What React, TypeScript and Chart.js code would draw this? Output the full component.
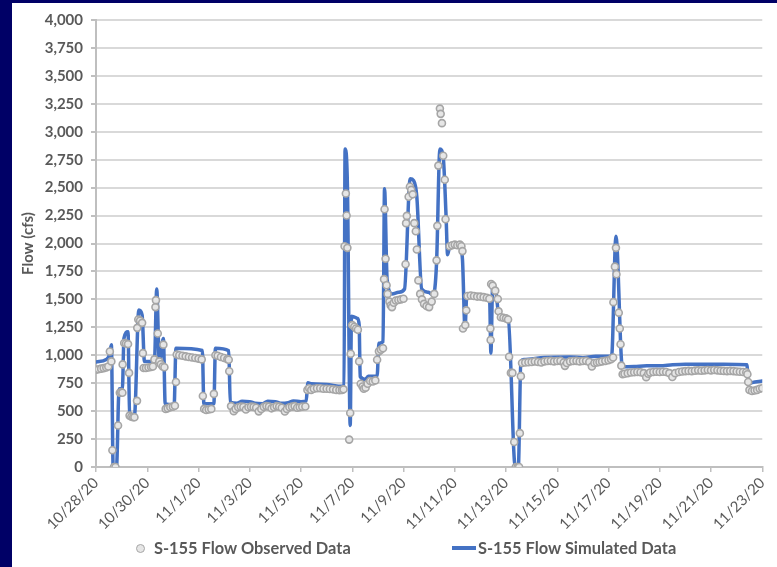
import React, { useEffect, useRef } from 'react';
import { Chart, registerables } from 'chart.js';

Chart.register(...registerables);

// x values are days elapsed since 10/28/20
const xTickLabels = [
  '10/28/20', '10/30/20', '11/1/20', '11/3/20', '11/5/20', '11/7/20', '11/9/20',
  '11/11/20', '11/13/20', '11/15/20', '11/17/20', '11/19/20', '11/21/20', '11/23/20',
];
const xTickStepDays = 2;
const yMax = 4000;
const yStep = 250;

const observedLabel = 'S-155 Flow Observed Data';
const simulatedLabel = 'S-155 Flow Simulated Data';

// Simulated series: [day, flow cfs]
const simulated: [number, number][] = [
  [0, 940], [0.4, 962], [0.52, 1000], [0.6, 1095], [0.67, 0], [0.8, 0], [0.9, 698], [1.03, 702],
  [1.09, 1151], [1.25, 1210], [1.31, 477], [1.5, 460], [1.67, 1404], [1.8, 1360], [1.89, 945],
  [2.28, 945], [2.37, 1593], [2.47, 945], [2.63, 1151], [2.7, 565], [3.05, 560], [3.12, 1063],
  [4.15, 1042], [4.21, 565], [4.6, 565], [4.66, 1063], [5.18, 1040], [5.24, 580], [5.5, 570],
  [5.7, 588], [6.0, 585], [6.2, 570], [6.5, 566], [6.7, 588], [7.0, 585], [7.2, 570], [7.5, 575],
  [7.7, 590], [8.0, 585], [8.2, 590], [8.27, 754], [8.4, 745], [9.0, 738], [9.6, 722], [9.68, 725],
  [9.72, 2845], [9.81, 2535], [9.92, 371], [9.97, 1350], [10.2, 1330], [10.27, 1270], [10.31, 810],
  [10.52, 783], [10.62, 813], [10.97, 813], [11.04, 1107], [11.2, 1122], [11.26, 2491], [11.36, 1681],
  [11.55, 1549], [11.81, 1564], [12.04, 1593], [12.26, 2580], [12.39, 2565], [12.52, 2418],
  [12.71, 1593], [12.97, 1564], [13.16, 1537], [13.29, 1829], [13.42, 2845], [13.55, 2771],
  [13.66, 2250], [13.72, 1900], [13.82, 1990], [14.2, 1965], [14.3, 1860], [14.4, 1240],
  [14.47, 1534], [15.36, 1504], [15.41, 1019], [15.48, 1623], [15.61, 1564], [15.72, 1358],
  [16.09, 1316], [16.36, 0], [16.48, 0], [16.58, 945], [16.7, 962], [17.5, 980], [18.5, 985],
  [19.0, 978], [19.5, 990], [20.12, 992], [20.29, 2065], [20.54, 898], [21.0, 900], [21.5, 905],
  [22.0, 905], [22.5, 915], [23.0, 920], [24.0, 920], [25.0, 918], [25.4, 916], [25.46, 742],
  [25.6, 755], [26.0, 770],
];

// Observed series: [day, flow cfs]
const observed: [number, number][] = [
  [0, 870], [0.1, 875], [0.2, 880], [0.3, 885], [0.4, 890], [0.48, 900], [0.54, 1034], [0.6, 945],
  [0.64, 150], [0.7, 0], [0.76, 0], [0.86, 371], [0.93, 665], [0.98, 670], [1.03, 665], [1.04, 918],
  [1.1, 1110], [1.17, 1105], [1.25, 1100], [1.29, 842], [1.31, 460], [1.38, 450], [1.45, 445],
  [1.5, 445], [1.6, 592], [1.61, 1245], [1.65, 1320], [1.72, 1310], [1.8, 1290], [1.83, 1019],
  [1.86, 886], [1.95, 886], [2.05, 890], [2.15, 895], [2.22, 900], [2.28, 963], [2.32, 1431],
  [2.34, 1493], [2.41, 1195], [2.47, 945], [2.53, 920], [2.6, 900], [2.63, 1095], [2.67, 892],
  [2.72, 520], [2.8, 525], [2.9, 535], [3.0, 540], [3.08, 548], [3.12, 760], [3.15, 1007],
  [3.25, 1000], [3.375, 995], [3.5, 990], [3.625, 985], [3.75, 980], [3.875, 975], [4.0, 970],
  [4.125, 963], [4.17, 636], [4.22, 520], [4.3, 510], [4.4, 515], [4.5, 520], [4.6, 654],
  [4.66, 1000], [4.75, 995], [4.875, 985], [5.0, 975], [5.125, 965], [5.18, 960], [5.2, 857],
  [5.27, 545], [5.375, 500], [5.45, 520], [5.55, 535], [5.65, 540], [5.75, 538], [5.85, 515],
  [5.95, 535], [6.05, 540], [6.15, 538], [6.25, 530], [6.35, 498], [6.45, 520], [6.55, 538],
  [6.65, 545], [6.75, 540], [6.85, 525], [6.95, 535], [7.05, 545], [7.15, 540], [7.25, 530],
  [7.37, 497], [7.45, 520], [7.55, 535], [7.65, 540], [7.75, 545], [7.85, 530], [7.95, 535],
  [8.05, 540], [8.17, 542], [8.25, 690], [8.32, 705], [8.4, 690], [8.5, 700], [8.625, 705],
  [8.75, 705], [8.875, 700], [9.0, 700], [9.125, 698], [9.25, 695], [9.375, 690], [9.5, 688],
  [9.6, 690], [9.66, 695], [9.7, 1976], [9.75, 2447], [9.78, 2250], [9.81, 1961], [9.88, 245],
  [9.92, 483], [9.94, 1013], [10.0, 1270], [10.08, 1255], [10.15, 1240], [10.22, 1228], [10.27, 945],
  [10.33, 745], [10.4, 720], [10.45, 700], [10.52, 710], [10.6, 745], [10.7, 769], [10.8, 765],
  [10.9, 775], [10.97, 960], [11.04, 1035], [11.12, 1050], [11.2, 1063], [11.24, 1681],
  [11.26, 2306], [11.3, 1864], [11.34, 1627], [11.38, 1549], [11.45, 1480], [11.5, 1445],
  [11.55, 1431], [11.62, 1470], [11.7, 1490], [11.8, 1495], [11.9, 1500], [12.0, 1505],
  [12.08, 1814], [12.1, 2182], [12.13, 2247], [12.2, 2418], [12.25, 2508], [12.3, 2480],
  [12.36, 2440], [12.42, 2182], [12.48, 2109], [12.52, 1946], [12.58, 1670], [12.65, 1549],
  [12.72, 1500], [12.8, 1460], [12.9, 1440], [13.0, 1431], [13.1, 1480], [13.2, 1549],
  [13.29, 1849], [13.32, 2158], [13.36, 2697], [13.42, 3207], [13.45, 3160], [13.5, 3077],
  [13.55, 2785], [13.61, 2570], [13.64, 2217], [13.8, 1975], [13.9, 1985], [14.0, 1990],
  [14.1, 1985], [14.2, 1990], [14.26, 1975], [14.3, 1932], [14.32, 1240], [14.41, 1270],
  [14.45, 1402], [14.5, 1530], [14.625, 1535], [14.75, 1530], [14.875, 1525], [15.0, 1525],
  [15.125, 1520], [15.25, 1515], [15.35, 1505], [15.39, 1240], [15.4, 1137], [15.42, 1637],
  [15.48, 1623], [15.58, 1578], [15.68, 1504], [15.71, 1393], [15.8, 1340], [15.9, 1335],
  [16.0, 1330], [16.08, 1320], [16.12, 987], [16.19, 842], [16.25, 842], [16.32, 224], [16.38, 0],
  [16.45, 0], [16.51, 0], [16.54, 303], [16.58, 813], [16.625, 930], [16.75, 935], [16.875, 938],
  [17.0, 940], [17.125, 945], [17.25, 940], [17.375, 935], [17.5, 945], [17.625, 948], [17.75, 950],
  [17.875, 945], [18.0, 948], [18.125, 950], [18.25, 935], [18.3, 905], [18.375, 930], [18.5, 945],
  [18.625, 948], [18.75, 950], [18.875, 945], [19.0, 948], [19.125, 950], [19.25, 940], [19.35, 900],
  [19.45, 930], [19.55, 935], [19.65, 940], [19.75, 945], [19.875, 950], [20.0, 955], [20.1, 965],
  [20.18, 980], [20.19, 1475], [20.25, 1793], [20.29, 1961], [20.31, 1725], [20.4, 1381],
  [20.44, 1240], [20.47, 1098], [20.5, 907], [20.55, 830], [20.625, 835], [20.75, 840],
  [20.875, 845], [21.0, 848], [21.125, 850], [21.25, 848], [21.375, 840], [21.47, 804], [21.55, 835],
  [21.625, 845], [21.75, 850], [21.875, 852], [22.0, 850], [22.125, 852], [22.25, 850], [22.375, 840],
  [22.49, 805], [22.6, 840], [22.75, 850], [22.875, 855], [23.0, 858], [23.125, 860], [23.25, 858],
  [23.375, 862], [23.5, 865], [23.625, 862], [23.75, 865], [23.875, 868], [24.0, 865], [24.125, 868],
  [24.25, 865], [24.375, 862], [24.5, 860], [24.625, 858], [24.75, 860], [24.875, 858], [25.0, 855],
  [25.125, 852], [25.25, 850], [25.375, 848], [25.42, 830], [25.45, 760], [25.5, 690], [25.6, 680],
  [25.7, 685], [25.8, 690], [25.9, 700], [26.0, 705],
];

const NAVY = '#000066';
const TEXT = '#595959';
const BLUE = '#4472C4';
const FONT = 'Lato, "Open Sans", "DejaVu Sans", sans-serif';

export default function App() {
  const canvasRef = useRef<HTMLCanvasElement | null>(null);

  useEffect(() => {
    const canvas = canvasRef.current;
    if (!canvas) return;
    const xMax = (xTickLabels.length - 1) * xTickStepDays;
    const chart = new Chart(canvas, {
      type: 'line',
      data: {
        datasets: [
          {
            label: observedLabel,
            data: observed.map(([x, y]) => ({ x, y })),
            showLine: false,
            pointRadius: 3.5,
            pointBorderWidth: 1.6,
            pointBorderColor: '#A6A6A6',
            pointBackgroundColor: '#E6E6E6',
            borderColor: '#A6A6A6',
            backgroundColor: '#E6E6E6',
          },
          {
            label: simulatedLabel,
            data: simulated.map(([x, y]) => ({ x, y })),
            borderColor: BLUE,
            backgroundColor: BLUE,
            borderWidth: 3.5,
            pointRadius: 0,
            cubicInterpolationMode: 'monotone',
            borderJoinStyle: 'round',
            borderCapStyle: 'round',
          },
        ],
      },
      options: {
        animation: false,
        responsive: false,
        devicePixelRatio: 1,
        layout: { padding: { left: 0, top: 10, right: 8, bottom: 0 } },
        plugins: { legend: { display: false }, tooltip: { enabled: false } },
        scales: {
          x: {
            type: 'linear',
            min: 0,
            max: xMax,
            afterBuildTicks: (scale: any) => {
              scale.ticks = xTickLabels.map((_, i) => ({ value: i * xTickStepDays }));
            },
            afterFit: (scale: any) => {
              scale.height = 100;
            },
            ticks: {
              autoSkip: false,
              minRotation: 45,
              maxRotation: 45,
              padding: 2,
              color: TEXT,
              font: { family: FONT, size: 15 },
              callback: (value: any) => xTickLabels[Math.round(Number(value) / xTickStepDays)] ?? '',
            },
            grid: {
              drawOnChartArea: false,
              drawTicks: true,
              tickLength: 5,
              color: '#BFBFBF',
              lineWidth: 1.5,
            },
            border: { color: '#BFBFBF', width: 2 },
          },
          y: {
            min: 0,
            max: yMax,
            afterFit: (scale: any) => {
              scale.width = 84;
            },
            ticks: {
              stepSize: yStep,
              padding: 8,
              color: TEXT,
              font: { family: FONT, size: 15, weight: 'bold' },
              callback: (value: any) => Number(value).toLocaleString('en-US'),
            },
            grid: {
              color: '#D9D9D9',
              lineWidth: 2,
              tickLength: 5,
              tickColor: '#BFBFBF',
            },
            border: { color: '#BFBFBF', width: 2 },
            title: {
              display: true,
              text: 'Flow (cfs)',
              color: TEXT,
              font: { family: FONT, size: 15, weight: 'bold' },
              padding: { top: 7, bottom: 0 },
            },
          },
        },
      },
    } as any);
    return () => chart.destroy();
  }, []);

  return (
    <div style={{ position: 'fixed', left: 0, top: 0, width: 777, height: 567, background: NAVY }}>
      <div style={{ position: 'absolute', left: 12, top: 3, width: 765, height: 564, background: '#FFFFFF' }}>
        <canvas ref={canvasRef} width={765} height={564} style={{ position: 'absolute', left: 0, top: 0, width: 765, height: 564 }} />
        <div
          style={{
            position: 'absolute', left: 124, top: 541, width: 9, height: 9, borderRadius: '50%',
            border: '1.6px solid #A6A6A6', background: '#E6E6E6', boxSizing: 'border-box',
          }}
        />
        <div
          style={{
            position: 'absolute', left: 142, top: 535, height: 20, lineHeight: '20px',
            fontFamily: FONT, fontWeight: 700, fontSize: 16.4, color: TEXT, whiteSpace: 'nowrap',
          }}
        >
          {observedLabel}
        </div>
        <div style={{ position: 'absolute', left: 440, top: 543, width: 24, height: 4, background: BLUE }} />
        <div
          style={{
            position: 'absolute', left: 466, top: 535, height: 20, lineHeight: '20px',
            fontFamily: FONT, fontWeight: 700, fontSize: 16.4, color: TEXT, whiteSpace: 'nowrap',
          }}
        >
          {simulatedLabel}
        </div>
      </div>
    </div>
  );
}
